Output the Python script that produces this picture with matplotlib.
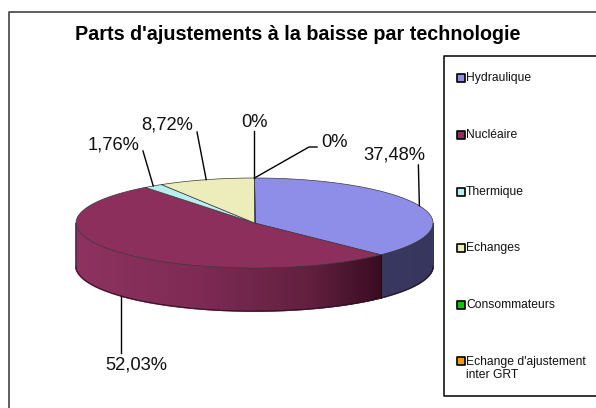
import numpy as np
import matplotlib
matplotlib.use('Agg')
import matplotlib.pyplot as plt
from matplotlib.colors import to_rgb

plt.rcParams['font.family'] = ['Liberation Sans', 'DejaVu Sans']

# data
categories = ['Hydraulique', 'Nucléaire', 'Thermique', 'Echanges', 'Consommateurs',
              "Echange d'ajustement\ninter GRT"]
values = [37.48, 52.03, 1.76, 8.72, 0, 0]
value_labels = ['37,48%', '52,03%', '1,76%', '8,72%', '0%', '0%']
colors = ['#8e8ee9', '#8c2f5c', '#b9eeee', '#ecedba', '#00cc00', '#ff9900']
title = "Parts d'ajustements à la baisse par technologie"

# layout in pixels
W, H = 596, 408
cx, cy, rx, ry, depth = 254.5, 223, 178.5, 45, 43
label_pos = [(394, 155), (136, 365), (114, 144), (167, 125), (254, 122), (334, 142)]
legend_y = [78, 135, 192, 248, 305, 361]

fig = plt.figure(figsize=(W / 100, H / 100), dpi=100)
ax = fig.add_axes([0, 0, 1, 1])
ax.set_xlim(0, W)
ax.set_ylim(H, 0)
ax.axis('off')


def ell(deg, dy=0):
    # angle measured clockwise from the top of the pie
    a = np.radians(deg)
    return cx + rx * np.sin(a), cy - ry * np.cos(a) + dy


def mix(stops, t):
    pos = [s[0] for s in stops]
    rgb = np.array([to_rgb(s[1]) for s in stops])
    return [np.interp(t, pos, rgb[:, i]) for i in range(3)]


side_stops = {
    0: [(0, '#3f3f69'), (1, '#36365e')],
    1: [(0, '#8e3260'), (0.35, '#7d2a54'), (0.65, '#62203f'), (0.85, '#3a0c22')],
}

edges = np.cumsum([0] + values) / np.sum(values) * 360

# side walls, front half only
for i in range(len(values)):
    a0, a1 = max(edges[i], 90), min(edges[i + 1], 270)
    if a1 <= a0:
        continue
    steps = np.linspace(a0, a1, int(a1 - a0) * 2 + 2)
    for s0, s1 in zip(steps[:-1], steps[1:]):
        x0, y0 = ell(s0)
        x1, y1 = ell(s1)
        c = mix(side_stops[i], ((x0 + x1) / 2 - (cx - rx)) / (2 * rx))
        ax.fill([x0, x1, x1, x0], [y0, y1, y1 + depth, y0 + depth], color=c, lw=1.2, zorder=2)

# outline of the side
t = np.linspace(90, 270, 200)
bx, by = ell(t, depth)
ax.plot(bx, by, color='#2a1020', lw=0.6, zorder=3)
x_left, y_left = ell(270)
ax.plot([x_left, x_left], [y_left, y_left + depth], color='#5a2a44', lw=0.6, zorder=3)
xb, yb = ell(edges[1])
ax.plot([xb, xb], [yb, yb + depth], color='#1c0a14', lw=0.7, zorder=3)

# top faces
for i in range(len(values)):
    t = np.linspace(edges[i], edges[i + 1], 120)
    x, y = ell(t)
    ax.fill(np.r_[cx, x], np.r_[cy, y], facecolor=colors[i], edgecolor='#3a3a3a', lw=0.5, zorder=4)

# leader lines, anchored on the middle of each slice
mids = (edges[:-1] + edges[1:]) / 2
for i, lab in enumerate(value_labels):
    ax_, ay_ = ell(mids[i] % 360)
    if i == 1:
        ay_ += depth
    lx, ly = label_pos[i]
    if i == 5:
        px, py = [lx - 25, lx - 17], [ly + 5, ly + 5]
        ax.plot([cx, px[0], px[1]], [cy - ry, py[0], py[1]], color='k', lw=1, zorder=5)
    elif i == 4:
        ax.plot([cx - 1, cx - 1], [cy - ry, ly + 9], color='k', lw=1, zorder=5)
    else:
        end = {0: (ax_ - 1, ly + 10), 1: (ax_, ly - 12), 2: (lx + 29, ly + 7), 3: (lx + 30, ly + 7)}[i]
        ax.plot([ax_, end[0]], [ay_, end[1]], color='k', lw=1, zorder=5)
    ax.text(lx, ly + 0.5, lab, fontsize=13.2, ha='center', va='center', color='#111111', zorder=6)

# title
ax.text(297.5, 34, title, fontsize=14.2, fontweight='bold', ha='center', va='center', color='k')

# outer frame, open on the right and at the bottom
ax.plot([8.5, 8.5, W], [H, 11.5, 11.5], color='#333333', lw=1.1, zorder=1)

# legend box
ax.plot([W, 443.5, 443.5, W], [55.5, 55.5, 396, 396], color='k', lw=1.1, zorder=1)
for name, col, ly in zip(categories, colors, legend_y):
    ax.scatter([461], [ly], s=26, marker='s', facecolor=col, edgecolor='k', lw=1.2, zorder=5)
    va_y = ly + 7.5 if '\n' in name else ly + 0.5
    ax.text(466, va_y, name, fontsize=8.7, ha='left', va='center', color='#111111', linespacing=1.2)

fig.savefig('out.png', dpi=100)
